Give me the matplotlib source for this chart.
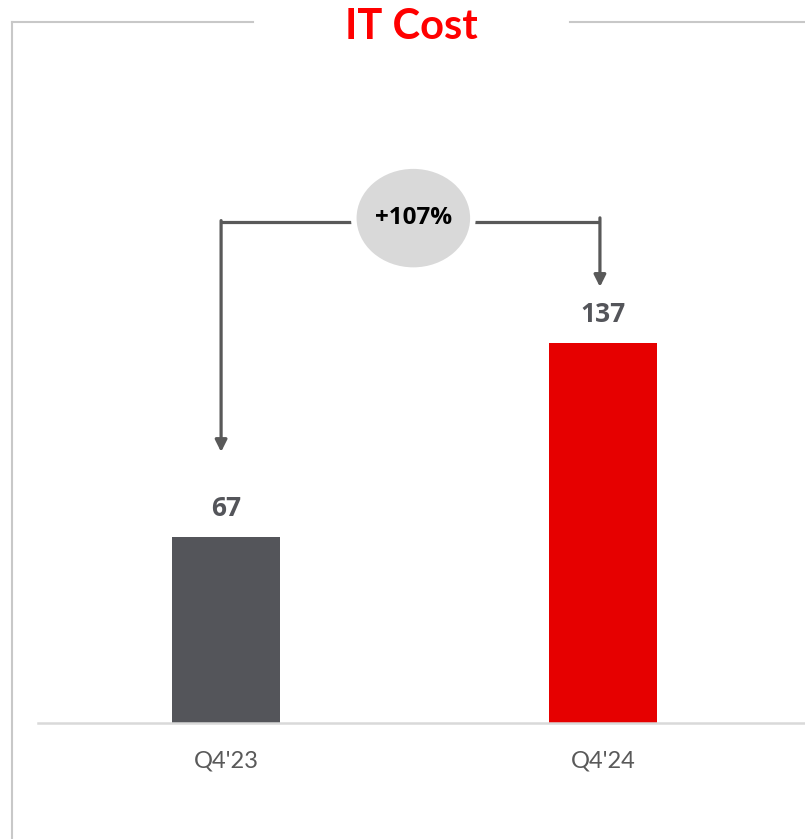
import matplotlib.pyplot as plt
from matplotlib.lines import Line2D
from matplotlib.patches import Ellipse

# data
categories = ["Q4'23", "Q4'24"]
values = [67, 137]
change_label = "+107%"

BAR_COLORS = ["#54555A", "#E60000"]
ARROW = "#595959"
BORDER = "#C8C8C8"
W, H = 805, 839

fig = plt.figure(figsize=(W / 100, H / 100), dpi=100, facecolor="white")


def fx(px):
    return px / W


def fy(py):
    return 1 - py / H


# frame lines around the chart
fig.add_artist(Line2D([fx(12), fx(12)], [fy(22), 0], color=BORDER, lw=1.5))
fig.add_artist(Line2D([fx(12), fx(253)], [fy(22), fy(22)], color=BORDER, lw=1.5))
fig.add_artist(Line2D([fx(570), 1], [fy(22), fy(22)], color=BORDER, lw=1.5))

fig.text(fx(411), fy(27), "IT Cost", ha="center", va="center", fontsize=30,
         fontweight="bold", color="#FF0000", family="Lato")

ax = fig.add_axes([fx(38), fy(723), fx(805 - 38), (723 - 60) / H])
x = range(len(values))
bars = ax.bar(x, values, width=0.2865, color=BAR_COLORS, zorder=2)
ax.set_xlim(-0.4987, 1.536)
ax.set_ylim(0, 239)
for s in ["top", "right", "left"]:
    ax.spines[s].set_visible(False)
ax.spines["bottom"].set_color("#D9D9D9")
ax.spines["bottom"].set_linewidth(1.8)
ax.set_yticks([])
ax.set_xticks(list(x))
ax.set_xticklabels(categories, fontsize=17, color="#595959", family="Lato")
ax.tick_params(axis="x", length=0, pad=20)

for b, v in zip(bars, values):
    ax.text(b.get_x() + b.get_width() / 2, v + 5.5, f"{v}", ha="center",
            va="bottom", fontsize=19, fontweight="bold", color="#54555A",
            family="Open Sans")

# growth connector
y_line = 180.6
xl, xr = -0.013, 0.992
ax.plot([xl, xr], [y_line, y_line], color=ARROW, lw=2.3, zorder=3,
        solid_capstyle="butt")
ax.annotate("", xy=(xl, 97.7), xytext=(xl, y_line + 0.5),
            arrowprops=dict(arrowstyle="-|>,head_length=0.7,head_width=0.35",
                            color=ARROW, lw=2.3, shrinkA=0, shrinkB=0), zorder=3)
ax.annotate("", xy=(xr, 157.2), xytext=(xr, y_line + 1.5),
            arrowprops=dict(arrowstyle="-|>,head_length=0.7,head_width=0.35",
                            color=ARROW, lw=2.3, shrinkA=0, shrinkB=0), zorder=3)
ax.add_patch(Ellipse((0.497, 182.0), 0.316, 37.5, facecolor="#D9D9D9",
                     edgecolor="white", lw=4, zorder=4))
ax.text(0.497, 182.0, change_label, ha="center", va="center", fontsize=17.5,
        fontweight="bold", color="black", family="Open Sans", zorder=5)

fig.savefig("out.png", dpi=100, facecolor="white")
